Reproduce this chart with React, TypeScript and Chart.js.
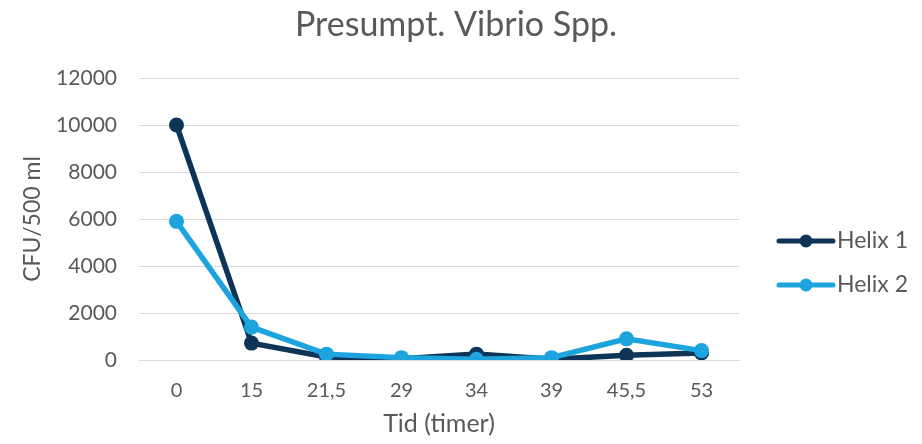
import React, { useEffect, useRef } from "react";
import { Chart, registerables } from "chart.js";
Chart.register(...registerables);

const categories = ["0", "15", "21,5", "29", "34", "39", "45,5", "53"];
const helix1 = [10000, 720, 130, 50, 250, 30, 200, 300];
const helix2 = [5900, 1400, 250, 100, 30, 100, 900, 400];
const seriesNames = ["Helix 1", "Helix 2"];
const seriesColors = ["#0E3558", "#1DA4DE"];
const titleText = "Presumpt. Vibrio Spp.";

const FONT = "Lato, 'Open Sans', sans-serif";
const TEXT = "#595959";

const decorPlugin = {
  id: "decor",
  afterDraw(chart: any) {
    const { ctx, chartArea } = chart;
    // title
    ctx.save();
    ctx.fillStyle = TEXT;
    ctx.font = `34px ${FONT}`;
    ctx.textAlign = "center";
    ctx.textBaseline = "alphabetic";
    ctx.fillText(titleText, 448, 28);
    ctx.restore();
    // legend
    const x0 = chartArea.right + 40;
    const ys = [chartArea.bottom - 119, chartArea.bottom - 75];
    chart.data.datasets.forEach((ds: any, i: number) => {
      const y = ys[i];
      ctx.save();
      ctx.strokeStyle = ds.borderColor;
      ctx.lineWidth = 5;
      ctx.lineCap = "round";
      ctx.beginPath();
      ctx.moveTo(x0, y);
      ctx.lineTo(x0 + 54, y);
      ctx.stroke();
      ctx.fillStyle = ds.borderColor;
      ctx.beginPath();
      ctx.arc(x0 + 27, y, 6.5, 0, Math.PI * 2);
      ctx.fill();
      ctx.fillStyle = TEXT;
      ctx.font = `23px ${FONT}`;
      ctx.textBaseline = "middle";
      ctx.textAlign = "left";
      ctx.fillText(ds.label, x0 + 58, y);
      ctx.restore();
    });
  },
};

export default function App() {
  const ref = useRef<HTMLCanvasElement>(null);
  useEffect(() => {
    if (!ref.current) return;
    const chart = new Chart(ref.current, {
      type: "line",
      data: {
        labels: categories,
        datasets: [helix1, helix2].map((d, i) => ({
          label: seriesNames[i],
          data: d,
          order: 1 - i,
          borderColor: seriesColors[i],
          backgroundColor: seriesColors[i],
          borderWidth: 5.5,
          pointRadius: 7.5,
          pointHoverRadius: 7.5,
          pointBorderWidth: 0,
          tension: 0,
        })),
      },
      options: {
        animation: false,
        responsive: true,
        maintainAspectRatio: false,
        layout: { padding: { left: 0, right: 175, top: 70, bottom: 0 } },
        plugins: {
          legend: { display: false },
          tooltip: { enabled: false },
          title: { display: false },
        },
        scales: {
          x: {
            offset: true,
            grid: { display: false },
            border: { display: true, color: "#D9D9D9" },
            ticks: { color: TEXT, font: { family: FONT, size: 20 }, padding: 11, maxRotation: 0 },
            afterFit: (s: any) => {
              s.height = 76;
            },
            title: {
              display: true,
              text: "Tid (timer)",
              color: TEXT,
              font: { family: FONT, size: 25, lineHeight: 1.0 },
              padding: { top: 0, bottom: 0 },
            },
          },
          y: {
            min: 0,
            max: 12000,
            grid: { color: "#D9D9D9", drawTicks: false },
            border: { display: false },
            ticks: {
              stepSize: 2000,
              color: TEXT,
              font: { family: FONT, size: 21 },
              padding: 22,
              callback: (v: any) => String(v),
            },
            afterFit: (s: any) => {
              s.width = 131;
            },
            title: {
              display: true,
              text: "CFU/500 ml",
              color: TEXT,
              font: { family: FONT, size: 23, lineHeight: 1.2 },
              padding: { top: 11, bottom: 0 },
            },
          },
        },
      },
      plugins: [decorPlugin],
    });
    return () => chart.destroy();
  }, []);
  return (
    <div style={{ width: 906, height: 428, position: "relative" }}>
      <canvas ref={ref} />
    </div>
  );
}
